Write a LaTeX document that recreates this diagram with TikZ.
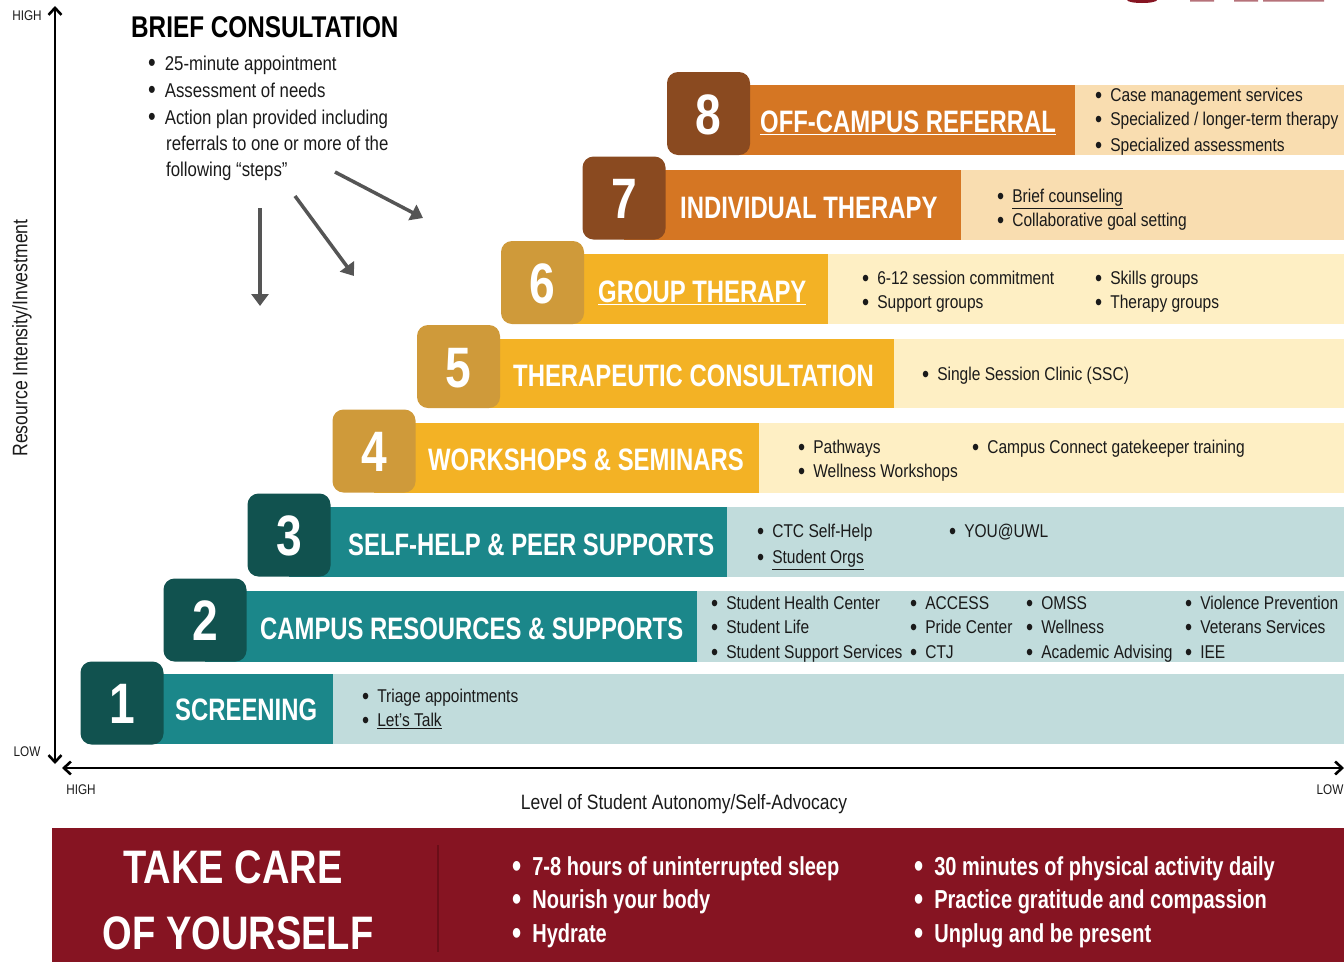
\documentclass[tikz,border=0pt]{standalone}
\usepackage{fontspec}
\setmainfont{Liberation Sans}[FakeStretch=0.84]
\newfontfamily\cb{Liberation Sans}[FakeStretch=0.77]
\newfontfamily\cbb{Liberation Sans}[FakeStretch=0.81]
\usetikzlibrary{arrows.meta}
\definecolor{brownbox}{HTML}{8A4A20}
\definecolor{orangeband}{HTML}{D57623}
\definecolor{peach}{HTML}{F9DDB0}
\definecolor{goldbox}{HTML}{CF9A3A}
\definecolor{yellowband}{HTML}{F3B225}
\definecolor{lightyellow}{HTML}{FEEFC4}
\definecolor{tealbox}{HTML}{11524F}
\definecolor{tealband}{HTML}{1B878A}
\definecolor{lightteal}{HTML}{C1DCDC}
\definecolor{banner}{HTML}{861422}
\definecolor{divider}{HTML}{6A0E18}
\definecolor{arrowgrey}{HTML}{555555}
\definecolor{txt}{HTML}{1A1A1A}
\newcommand{\bigbul}{\raisebox{-0.08em}{\scalebox{1.3}{\textbullet}}}
\newcommand{\bl}[2][8pt]{\bigbul\hspace{#1}#2}
\begin{document}
\begin{tikzpicture}[x=1pt,y=-1pt,
  numbox/.style={rounded corners=11pt, minimum width=83pt, minimum height=83pt, inner sep=0pt, text=white,
     font=\cbb\bfseries\fontsize{57}{57}\selectfont, text height=41pt, text depth=0pt},
  ttl/.style={anchor=west, inner sep=0pt, text=white, font=\cb\bfseries\fontsize{31}{31}\selectfont, text height=22pt, text depth=0pt},
  desc/.style={anchor=west, inner sep=0pt, text=txt, font=\fontsize{18.5}{21}\selectfont, text height=13.5pt, text depth=0pt},
  brief/.style={anchor=west, inner sep=0pt, text=txt, font=\fontsize{20}{23}\selectfont, text height=14pt, text depth=0pt},
  care/.style={anchor=west, inner sep=0pt, text=white, font=\cb\bfseries\fontsize{26}{28}\selectfont, text height=19pt, text depth=5pt},
  axlbl/.style={inner sep=0pt, text=txt, font=\fontsize{14}{16}\selectfont},
  greyarrow/.style={draw=arrowgrey, line width=3.5pt, -{Triangle[width=17pt,length=12pt]}},
  axis/.style={draw=black, line width=2.6pt, {Straight Barb[length=7pt,width=13pt]}-{Straight Barb[length=7pt,width=13pt]}}
]
\useasboundingbox (0,0) rectangle (1344,962);
% logo sliver at top
\fill[banner] (1142,0) ellipse [x radius=15, y radius=3];
\fill[banner!60] (1190,0) rectangle (1214,1.5) (1234,0) rectangle (1258,1.5) (1263,0) rectangle (1324,1.5);

% ---------- description bands ----------
\fill[peach] (1075,85) rectangle (1344,155);
\fill[peach] (961,170) rectangle (1344,240);
\fill[lightyellow] (828,254) rectangle (1344,324);
\fill[lightyellow] (894,339) rectangle (1344,408);
\fill[lightyellow] (759,423) rectangle (1344,493);
\fill[lightteal] (727,507) rectangle (1344,577);
\fill[lightteal] (697,591) rectangle (1344,662);
\fill[lightteal] (333,674) rectangle (1344,744);
% ---------- title bands ----------
\fill[orangeband] (708,85) rectangle (1075,155);
\fill[orangeband] (624,170) rectangle (961,240);
\fill[yellowband] (542,254) rectangle (828,324);
\fill[yellowband] (458,339) rectangle (894,408);
\fill[yellowband] (374,423) rectangle (759,493);
\fill[tealband] (289,507) rectangle (727,577);
\fill[tealband] (205,591) rectangle (697,662);
\fill[tealband] (122,674) rectangle (333,744);
% ---------- number boxes ----------
\node[numbox, fill=brownbox] (n8) at (708.5,113.5) {8};
\node[numbox, fill=brownbox] (n7) at (624,198) {7};
\node[numbox, fill=goldbox] (n6) at (542.5,282.5) {6};
\node[numbox, fill=goldbox] (n5) at (458.5,366.5) {5};
\node[numbox, fill=goldbox] (n4) at (374,451) {4};
\node[numbox, fill=tealbox] (n3) at (289,535) {3};
\node[numbox, fill=tealbox] (n2) at (205,620) {2};
\node[numbox, fill=tealbox] (n1) at (122,703) {1};
% ---------- titles ----------
\node[ttl] (t8) at (760,121) {\underline{OFF-CAMPUS REFERRAL}};
\node[ttl] (t7) at (680,207) {INDIVIDUAL THERAPY};
\node[ttl] (t6) at (598,291) {\underline{GROUP THERAPY}};
\node[ttl] (t5) at (513,375) {THERAPEUTIC CONSULTATION};
\node[ttl] (t4) at (428,459) {WORKSHOPS \& SEMINARS};
\node[ttl] (t3) at (348,544) {SELF-HELP \& PEER SUPPORTS};
\node[ttl] (t2) at (260,628) {CAMPUS RESOURCES \& SUPPORTS};
\node[ttl] (t1) at (175,709) {SCREENING};
% ---------- descriptions ----------
\node[desc] (d8a) at (1095,95) {\bl{Case management services}};
\node[desc] (d8b) at (1095,119) {\bl{Specialized / longer-term therapy}};
\node[desc] (d8c) at (1095,145) {\bl{Specialized assessments}};
\node[desc] (d7a) at (997,196) {\bl{\underline{Brief counseling}}};
\node[desc] (d7b) at (997,220) {\bl{Collaborative goal setting}};
\node[desc] (d6a) at (862,278) {\bl{6-12 session commitment}};
\node[desc] (d6b) at (862,302) {\bl{Support groups}};
\node[desc] (d6c) at (1095,278) {\bl{Skills groups}};
\node[desc] (d6d) at (1095,302) {\bl{Therapy groups}};
\node[desc] (d5a) at (922,374) {\bl{Single Session Clinic (SSC)}};
\node[desc] (d4a) at (798,447) {\bl{Pathways}};
\node[desc] (d4b) at (798,471) {\bl{Wellness Workshops}};
\node[desc] (d4c) at (972,447) {\bl{Campus Connect gatekeeper training}};
\node[desc] (d3a) at (757,531) {\bl{CTC Self-Help}};
\node[desc] (d3b) at (757,557) {\bl{\underline{Student Orgs}}};
\node[desc] (d3c) at (949,531) {\bl{YOU@UWL}};
\node[desc] (d2a) at (711,603) {\bl{Student Health Center}};
\node[desc] (d2b) at (711,627) {\bl{Student Life}};
\node[desc] (d2c) at (711,652) {\bl{Student Support Services}};
\node[desc] (d2d) at (910,603) {\bl{ACCESS}};
\node[desc] (d2e) at (910,627) {\bl{Pride Center}};
\node[desc] (d2f) at (910,652) {\bl{CTJ}};
\node[desc] (d2g) at (1026,603) {\bl{OMSS}};
\node[desc] (d2h) at (1026,627) {\bl{Wellness}};
\node[desc] (d2i) at (1026,652) {\bl{Academic Advising}};
\node[desc] (d2j) at (1185,603) {\bl{Violence Prevention}};
\node[desc] (d2k) at (1185,627) {\bl{Veterans Services}};
\node[desc] (d2l) at (1185,652) {\bl{IEE}};
\node[desc] (d1a) at (362,696) {\bl{Triage appointments}};
\node[desc] (d1b) at (362,720) {\bl{\underline{Let’s Talk}}};
% ---------- brief consultation ----------
\node[anchor=west, inner sep=0pt, text=black, font=\cbb\bfseries\fontsize{30}{31}\selectfont, text height=22pt, text depth=0pt] (bc) at (131,26) {BRIEF CONSULTATION};
\node[brief] (b1) at (148,63) {\bl[9pt]{25-minute appointment}};
\node[brief] (b2) at (148,90) {\bl[9pt]{Assessment of needs}};
\node[brief] (b3) at (148,117) {\bl[9pt]{Action plan provided including}};
\node[brief] (b4) at (166,143) {referrals to one or more of the};
\node[brief] (b5) at (166,169) {following “steps”};
\coordinate (a1s) at (260,208); \coordinate (a1e) at (260,306);
\coordinate (a2s) at (295,196); \coordinate (a2e) at (354,276);
\coordinate (a3s) at (335,172); \coordinate (a3e) at (423,218);
\draw[greyarrow] (a1s) -- (a1e);
\draw[greyarrow] (a2s) -- (a2e);
\draw[greyarrow] (a3s) -- (a3e);
% ---------- axes ----------
\coordinate (vtop) at (55,6); \coordinate (vbot) at (55,764);
\coordinate (hl) at (62,768); \coordinate (hr) at (1344,768);
\draw[axis] (vbot) -- (vtop);
\draw[axis] (hl) -- (hr);
\node[axlbl] (yhigh) at (27,16) {HIGH};
\node[axlbl] (ylow) at (27,752) {LOW};
\node[axlbl, font=\fontsize{21}{24}\selectfont, rotate=90] (ylab) at (22,338) {Resource Intensity/Investment};
\node[axlbl] (xhigh) at (81,790) {HIGH};
\node[axlbl] (xlow) at (1330,790) {LOW};
\node[axlbl, font=\fontsize{20.8}{24}\selectfont] (xlab) at (684,804) {Level of Student Autonomy/Self-Advocacy};
% ---------- banner ----------
\fill[banner] (52,828) rectangle (1344,962);
\node[inner sep=0pt, text=white, font=\cbb\bfseries\fontsize{47}{47}\selectfont, text height=34pt, text depth=0pt] (tc1) at (233,866) {TAKE CARE};
\node[inner sep=0pt, text=white, font=\cbb\bfseries\fontsize{47}{47}\selectfont, text height=34pt, text depth=0pt] (tc2) at (238,932) {OF YOURSELF};
\coordinate (dvt) at (438,845); \coordinate (dvb) at (438,952);
\draw[divider, line width=2pt] (dvt) -- (dvb);
\node[care] (c1) at (512,868) {\bl[11pt]{7-8 hours of uninterrupted sleep}};
\node[care] (c2) at (512,901) {\bl[11pt]{Nourish your body}};
\node[care] (c3) at (512,935) {\bl[11pt]{Hydrate}};
\node[care] (c4) at (914,868) {\bl[11pt]{30 minutes of physical activity daily}};
\node[care] (c5) at (914,901) {\bl[11pt]{Practice gratitude and compassion}};
\node[care] (c6) at (914,935) {\bl[11pt]{Unplug and be present}};
\end{tikzpicture}
\end{document}
